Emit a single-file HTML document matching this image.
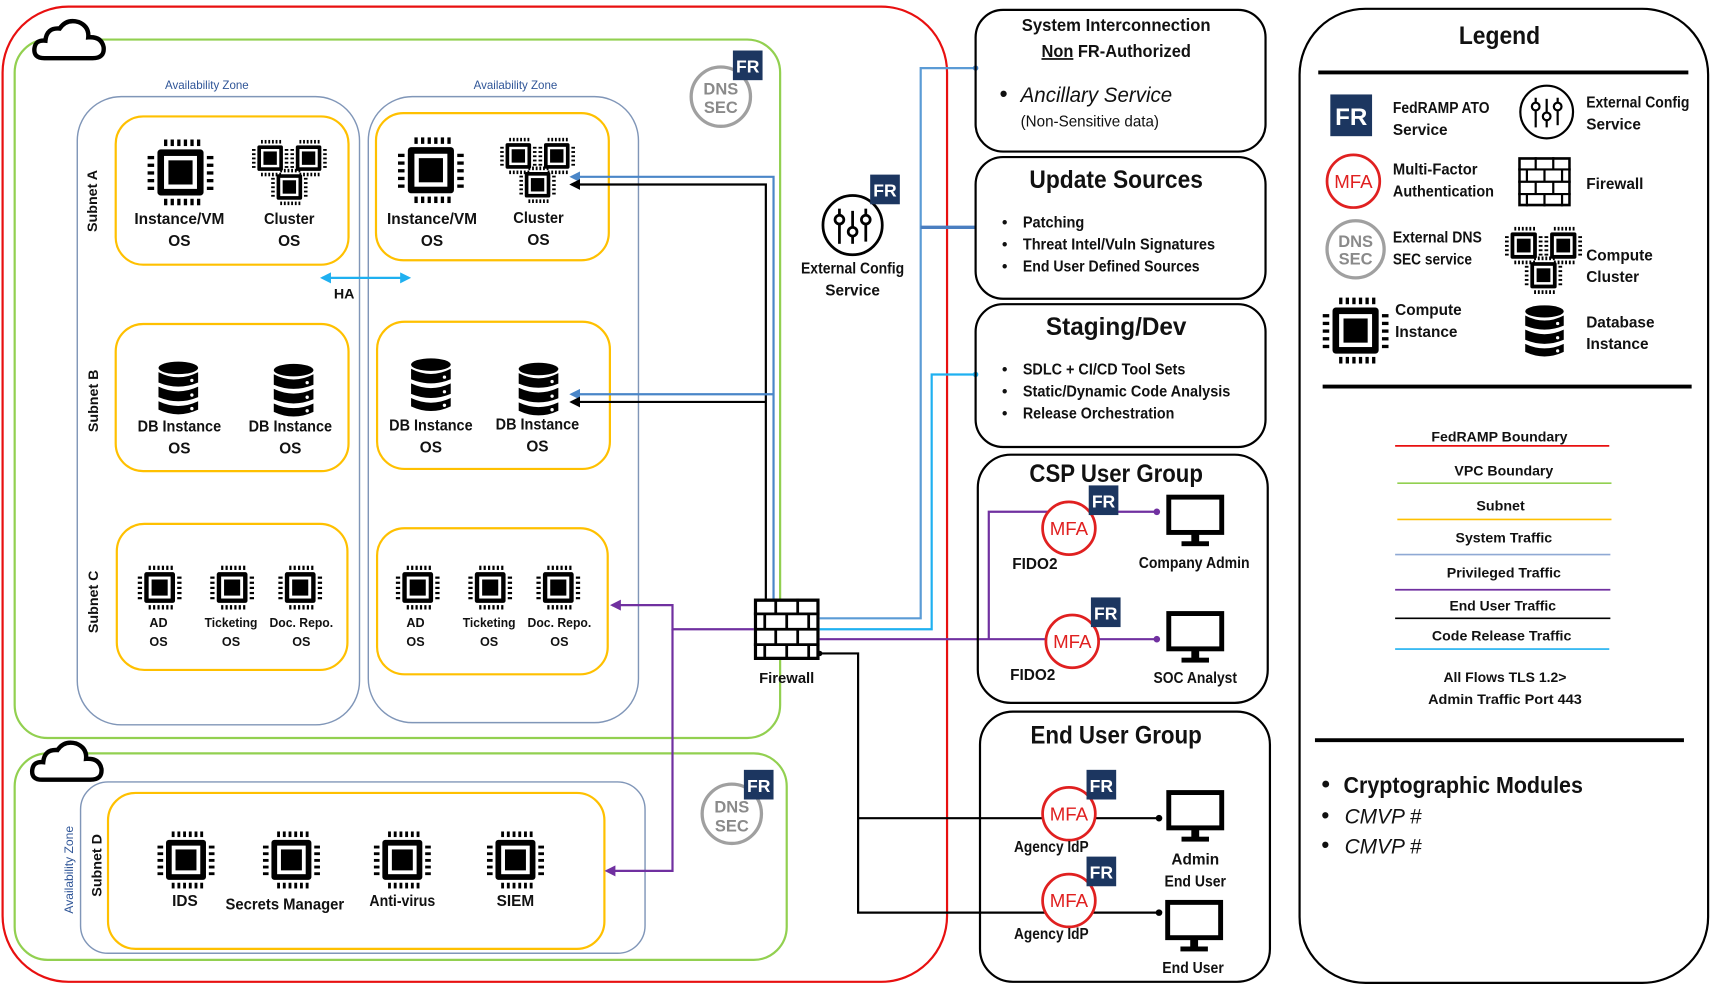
<!DOCTYPE html>
<html><head><meta charset="utf-8"><style>
html,body{margin:0;padding:0;background:#fff;}
svg{display:block;}
text{font-family:"Liberation Sans",sans-serif;font-weight:bold;fill:#111;}
</style></head><body>
<svg width="1714" height="984" viewBox="0 0 1560 896" xmlns="http://www.w3.org/2000/svg">
<defs>
<symbol id="chip" viewBox="0 0 60 60">
<g fill="#000">
<rect x="15" y="0" width="3" height="6"/><rect x="21" y="0" width="3" height="6"/><rect x="27" y="0" width="3" height="6"/><rect x="33" y="0" width="3" height="6"/><rect x="39" y="0" width="3" height="6"/><rect x="45" y="0" width="3" height="6"/>
<rect x="15" y="54" width="3" height="6"/><rect x="21" y="54" width="3" height="6"/><rect x="27" y="54" width="3" height="6"/><rect x="33" y="54" width="3" height="6"/><rect x="39" y="54" width="3" height="6"/><rect x="45" y="54" width="3" height="6"/>
<rect x="0" y="15" width="6" height="3"/><rect x="0" y="22" width="6" height="3"/><rect x="0" y="29" width="6" height="3"/><rect x="0" y="36" width="6" height="3"/><rect x="0" y="43" width="6" height="3"/>
<rect x="54" y="15" width="6" height="3"/><rect x="54" y="22" width="6" height="3"/><rect x="54" y="29" width="6" height="3"/><rect x="54" y="36" width="6" height="3"/><rect x="54" y="43" width="6" height="3"/>
<rect x="9" y="9" width="42" height="42" rx="3"/>
</g>
<rect x="15" y="15" width="30" height="30" fill="#fff"/>
<rect x="19" y="19" width="22" height="22" fill="#000"/>
</symbol>
<symbol id="cluster" viewBox="0 0 80 70">
<use href="#chip" x="0" y="0" width="38" height="38"/>
<use href="#chip" x="40" y="0" width="38" height="38"/>
<use href="#chip" x="20" y="30" width="38" height="38"/>
</symbol>
<symbol id="db" viewBox="0 0 40 52">
<g fill="#000">
<ellipse cx="20" cy="6" rx="19" ry="6"/>
<path d="M1 10 Q20 20 39 10 V20 Q20 28 1 20Z"/>
<path d="M1 24 Q20 33 39 24 V34 Q20 42 1 34Z"/>
<path d="M1 38 Q20 47 39 38 V46 Q20 55 1 46Z"/>
</g>
<g fill="#fff"><circle cx="33" cy="18" r="1.6"/><circle cx="33" cy="32" r="1.6"/><circle cx="33" cy="45" r="1.6"/></g>
</symbol>
<symbol id="mon" viewBox="0 0 60 56">
<rect x="3" y="3" width="54" height="36" fill="#fff" stroke="#000" stroke-width="5"/>
<rect x="26" y="41" width="8" height="8" fill="#000"/>
<rect x="16" y="48" width="28" height="5" fill="#000"/>
</symbol>
<symbol id="fw" viewBox="0 0 60 56">
<rect x="1.5" y="1.5" width="57" height="53" fill="#fff" stroke="#000" stroke-width="3"/>
<g stroke="#000" stroke-width="2.5">
<line x1="0" y1="14" x2="60" y2="14"/><line x1="0" y1="28" x2="60" y2="28"/><line x1="0" y1="42" x2="60" y2="42"/>
<line x1="20" y1="0" x2="20" y2="14"/><line x1="40" y1="0" x2="40" y2="14"/>
<line x1="10" y1="14" x2="10" y2="28"/><line x1="30" y1="14" x2="30" y2="28"/><line x1="50" y1="14" x2="50" y2="28"/>
<line x1="20" y1="28" x2="20" y2="42"/><line x1="40" y1="28" x2="40" y2="42"/>
<line x1="10" y1="42" x2="10" y2="56"/><line x1="30" y1="42" x2="30" y2="56"/><line x1="50" y1="42" x2="50" y2="56"/>
</g>
</symbol>
<symbol id="cloud" viewBox="0 0 70 42">
<path d="M12 38 Q2 38 3 29 Q4 21 13 22 Q14 10 26 11 Q32 2 43 5 Q53 9 52 19 Q64 18 66 28 Q67 38 56 38Z" fill="#fff" stroke="#000" stroke-width="4"/>
</symbol>
<marker id="ab" viewBox="0 0 10 10" refX="8" refY="5" markerWidth="5" markerHeight="5" orient="auto-start-reverse"><path d="M0 0L10 5L0 10Z" fill="#4a86c8"/></marker>
<marker id="ak" viewBox="0 0 10 10" refX="8" refY="5" markerWidth="5" markerHeight="5" orient="auto-start-reverse"><path d="M0 0L10 5L0 10Z" fill="#000"/></marker>
<marker id="ac" viewBox="0 0 10 10" refX="8" refY="5" markerWidth="5" markerHeight="5" orient="auto-start-reverse"><path d="M0 0L10 5L0 10Z" fill="#1fb0f0"/></marker>
<marker id="ap" viewBox="0 0 10 10" refX="8" refY="5" markerWidth="5" markerHeight="5" orient="auto-start-reverse"><path d="M0 0L10 5L0 10Z" fill="#7030a0"/></marker>
</defs>

<rect x="2" y="6" width="860" height="888" rx="60" fill="none" stroke="#e81010" stroke-width="2"/>
<rect x="13" y="36" width="697" height="636" rx="30" fill="none" stroke="#92d050" stroke-width="2"/>
<rect x="13" y="686" width="703" height="188" rx="30" fill="none" stroke="#92d050" stroke-width="2"/>
<use href="#cloud" x="28" y="15" width="70" height="42"/>
<use href="#cloud" x="26" y="672" width="70" height="42"/>

<rect x="70" y="88" width="257" height="572" rx="40" fill="none" stroke="#8096b8" stroke-width="1.3"/>
<rect x="335" y="88" width="246" height="570" rx="40" fill="none" stroke="#8096b8" stroke-width="1.3"/>
<rect x="73" y="712" width="514" height="156" rx="25" fill="none" stroke="#8096b8" stroke-width="1.3"/>
<g font-size="10.5" text-anchor="middle"><text x="188" y="81" style="fill:#2f5597;font-weight:normal">Availability Zone</text><text x="469" y="81" style="fill:#2f5597;font-weight:normal">Availability Zone</text></g>

<g fill="none" stroke="#ffc000" stroke-width="2">
<rect x="105" y="106" width="212" height="135" rx="25"/>
<rect x="342" y="103" width="212" height="134" rx="25"/>
<rect x="105" y="295" width="212" height="134" rx="25"/>
<rect x="343" y="293" width="212" height="134" rx="25"/>
<rect x="106" y="477" width="210" height="133" rx="25"/>
<rect x="343" y="481" width="210" height="133" rx="25"/>
<rect x="98" y="722" width="452" height="142" rx="25"/>
</g>
<g font-size="13" text-anchor="middle">
<text transform="translate(88,183) rotate(-90)">Subnet A</text>
<text transform="translate(89,365) rotate(-90)">Subnet B</text>
<text transform="translate(89,548) rotate(-90)">Subnet C</text>
<text transform="translate(92,788) rotate(-90)">Subnet D</text>
<text transform="translate(66,792) rotate(-90)" font-size="11" style="fill:#2f5597;font-weight:normal">Availability Zone</text>
</g>

<use href="#chip" x="134" y="127" width="60" height="60"/>
<use href="#cluster" x="229" y="127" width="70" height="62"/>
<use href="#chip" x="362" y="125" width="60" height="60"/>
<use href="#cluster" x="455" y="125" width="70" height="62"/>
<g font-size="14" text-anchor="middle">
<text x="163" y="204" textLength="82" lengthAdjust="spacingAndGlyphs">Instance/VM</text><text x="163" y="224">OS</text>
<text x="263" y="204" textLength="46" lengthAdjust="spacingAndGlyphs">Cluster</text><text x="263" y="224">OS</text>
<text x="393" y="204" textLength="82" lengthAdjust="spacingAndGlyphs">Instance/VM</text><text x="393" y="224">OS</text>
<text x="490" y="203" textLength="46" lengthAdjust="spacingAndGlyphs">Cluster</text><text x="490" y="223">OS</text>
<text x="313" y="272" font-size="13">HA</text>
<text x="163" y="393" textLength="76" lengthAdjust="spacingAndGlyphs">DB Instance</text><text x="163" y="413">OS</text>
<text x="264" y="393" textLength="76" lengthAdjust="spacingAndGlyphs">DB Instance</text><text x="264" y="413">OS</text>
<text x="392" y="392" textLength="76" lengthAdjust="spacingAndGlyphs">DB Instance</text><text x="392" y="412">OS</text>
<text x="489" y="391" textLength="76" lengthAdjust="spacingAndGlyphs">DB Instance</text><text x="489" y="411">OS</text>
</g>
<line x1="293" y1="253" x2="372" y2="253" stroke="#1fb0f0" stroke-width="2" marker-start="url(#ac)" marker-end="url(#ac)"/>
<use href="#db" x="143" y="329" width="38" height="50"/>
<use href="#db" x="248" y="331" width="38" height="50"/>
<use href="#db" x="373" y="326" width="38" height="50"/>
<use href="#db" x="471" y="330" width="38" height="50"/>

<use href="#chip" x="125" y="515" width="40" height="40"/>
<use href="#chip" x="191" y="515" width="40" height="40"/>
<use href="#chip" x="253" y="515" width="40" height="40"/>
<use href="#chip" x="360" y="515" width="40" height="40"/>
<use href="#chip" x="426" y="515" width="40" height="40"/>
<use href="#chip" x="488" y="515" width="40" height="40"/>
<g font-size="11.5" text-anchor="middle">
<text x="144" y="571">AD</text><text x="144" y="588">OS</text>
<text x="210" y="571" textLength="48" lengthAdjust="spacingAndGlyphs">Ticketing</text><text x="210" y="588">OS</text>
<text x="274" y="571" textLength="58" lengthAdjust="spacingAndGlyphs">Doc. Repo.</text><text x="274" y="588">OS</text>
<text x="378" y="571">AD</text><text x="378" y="588">OS</text>
<text x="445" y="571" textLength="48" lengthAdjust="spacingAndGlyphs">Ticketing</text><text x="445" y="588">OS</text>
<text x="509" y="571" textLength="58" lengthAdjust="spacingAndGlyphs">Doc. Repo.</text><text x="509" y="588">OS</text>
</g>

<use href="#chip" x="143" y="757" width="52" height="52"/>
<use href="#chip" x="239" y="757" width="52" height="52"/>
<use href="#chip" x="340" y="757" width="52" height="52"/>
<use href="#chip" x="443" y="757" width="52" height="52"/>
<g font-size="14" text-anchor="middle">
<text x="168" y="825">IDS</text><text x="259" y="828" textLength="108" lengthAdjust="spacingAndGlyphs">Secrets Manager</text><text x="366" y="825" textLength="60" lengthAdjust="spacingAndGlyphs">Anti-virus</text><text x="469" y="825">SIEM</text>
</g>

<g>
<circle cx="656" cy="88" r="27" fill="#fff" stroke="#a0a0a0" stroke-width="3"/>
<text x="656" y="86" text-anchor="middle" font-size="15" style="fill:#8a8a8a">DNS</text>
<text x="656" y="103" text-anchor="middle" font-size="15" style="fill:#8a8a8a">SEC</text>
<rect x="667" y="46" width="27" height="27" fill="#1c3660"/><text x="680.5" y="66" text-anchor="middle" font-size="16" style="fill:#fff">FR</text>
<circle cx="666" cy="741" r="27" fill="#fff" stroke="#a0a0a0" stroke-width="3"/>
<text x="666" y="740" text-anchor="middle" font-size="15" style="fill:#8a8a8a">DNS</text>
<text x="666" y="757" text-anchor="middle" font-size="15" style="fill:#8a8a8a">SEC</text>
<rect x="677" y="701" width="27" height="27" fill="#1c3660"/><text x="690.5" y="721" text-anchor="middle" font-size="16" style="fill:#fff">FR</text>
</g>

<g fill="none" stroke-width="2">
<polyline points="704,545 704,161 520,161" stroke="#4a86c8" marker-end="url(#ab)"/>
<polyline points="697,545 697,168 520,168" stroke="#000" marker-end="url(#ak)"/>
<polyline points="704,359 520,359" stroke="#4a86c8" marker-end="url(#ab)"/>
<polyline points="697,366 520,366" stroke="#000" marker-end="url(#ak)"/>
<polyline points="746,563 838,563 838,62 888,62" stroke="#5b9bd5"/>
<polyline points="838,207 888,207" stroke="#4a7ec0" stroke-width="3"/>
<polyline points="746,573 848,573 848,341 888,341" stroke="#1fb0f0"/>
<polyline points="746,582 1053,582" stroke="#7030a0"/>
<polyline points="900,582 900,466 1053,466" stroke="#7030a0"/>
<polyline points="686,573 612,573 612,551 557,551" stroke="#7030a0" marker-end="url(#ap)"/>
<polyline points="612,573 612,793 552,793" stroke="#7030a0" marker-end="url(#ap)"/>
<polyline points="746,595 781,595 781,831 1055,831" stroke="#000"/>
<polyline points="781,745 1055,745" stroke="#000"/>
</g>
<g><circle cx="888" cy="62" r="2.5" fill="#4a86c8"/><circle cx="888" cy="341" r="2.5" fill="#1fb0f0"/>
<circle cx="1053" cy="466" r="3" fill="#7030a0"/><circle cx="1053" cy="582" r="3" fill="#7030a0"/>
<circle cx="1055" cy="745" r="3" fill="#000"/><circle cx="1055" cy="831" r="3" fill="#000"/>
<circle cx="746" cy="595" r="2.5" fill="#000"/></g>

<use href="#fw" x="686" y="545" width="60" height="56"/>
<text x="716" y="622" text-anchor="middle" font-size="13.5">Firewall</text>

<circle cx="776" cy="205" r="27" fill="#fff" stroke="#000" stroke-width="2.5"/>
<g stroke="#000" stroke-width="2.5" fill="#fff">
<line x1="764" y1="190" x2="764" y2="222"/><line x1="776" y1="192" x2="776" y2="222"/><line x1="788" y1="190" x2="788" y2="220"/>
<circle cx="764" cy="200" r="4"/><circle cx="776" cy="211" r="4"/><circle cx="788" cy="200" r="4"/>
</g>
<rect x="792" y="159" width="27" height="27" fill="#1c3660"/><text x="805.5" y="179" text-anchor="middle" font-size="16" style="fill:#fff">FR</text>
<text x="776" y="249" text-anchor="middle" font-size="14" textLength="94" lengthAdjust="spacingAndGlyphs">External Config</text>
<text x="776" y="269" text-anchor="middle" font-size="14">Service</text>

<g fill="none" stroke="#000" stroke-width="2">
<rect x="888" y="9" width="264" height="129" rx="25"/>
<rect x="888" y="143" width="264" height="129" rx="25"/>
<rect x="888" y="277" width="264" height="130" rx="25"/>
<rect x="890" y="414" width="264" height="226" rx="30"/>
<rect x="892" y="648" width="264" height="246" rx="30"/>
<rect x="1183" y="8" width="372" height="887" rx="60"/>
</g>
<g text-anchor="middle">
<text x="1016" y="28" font-size="16" textLength="172" lengthAdjust="spacingAndGlyphs">System Interconnection</text>
<text x="1016" y="52" font-size="16" textLength="136" lengthAdjust="spacingAndGlyphs"><tspan text-decoration="underline">Non</tspan> FR-Authorized</text>
<text x="1016" y="171" font-size="23" textLength="158" lengthAdjust="spacingAndGlyphs">Update Sources</text>
<text x="1016" y="305" font-size="23" textLength="128" lengthAdjust="spacingAndGlyphs">Staging/Dev</text>
<text x="1016" y="439" font-size="23" textLength="158" lengthAdjust="spacingAndGlyphs">CSP User Group</text>
<text x="1016" y="677" font-size="23" textLength="156" lengthAdjust="spacingAndGlyphs">End User Group</text>
</g>
<text x="910" y="92" font-size="20">•</text>
<text x="929" y="93" font-size="19" font-style="italic" style="font-weight:normal" textLength="138" lengthAdjust="spacingAndGlyphs">Ancillary Service</text>
<text x="929" y="115" font-size="14" style="font-weight:normal" textLength="126" lengthAdjust="spacingAndGlyphs">(Non-Sensitive data)</text>
<g font-size="14">
<text x="912" y="207">•</text><text x="931" y="207" textLength="56" lengthAdjust="spacingAndGlyphs">Patching</text>
<text x="912" y="227">•</text><text x="931" y="227" textLength="175" lengthAdjust="spacingAndGlyphs">Threat Intel/Vuln Signatures</text>
<text x="912" y="247">•</text><text x="931" y="247" textLength="161" lengthAdjust="spacingAndGlyphs">End User Defined Sources</text>
<text x="912" y="341">•</text><text x="931" y="341" textLength="148" lengthAdjust="spacingAndGlyphs">SDLC + CI/CD Tool Sets</text>
<text x="912" y="361">•</text><text x="931" y="361" textLength="189" lengthAdjust="spacingAndGlyphs">Static/Dynamic Code Analysis</text>
<text x="912" y="381">•</text><text x="931" y="381" textLength="138" lengthAdjust="spacingAndGlyphs">Release Orchestration</text>
</g>

<g>
<circle cx="973" cy="481" r="24" fill="#fff" stroke="#e02020" stroke-width="2.5"/><text x="973" y="487" text-anchor="middle" font-size="17" style="fill:#e02020;font-weight:normal">MFA</text>
<rect x="991" y="442" width="27" height="27" fill="#1c3660"/><text x="1004.5" y="462" text-anchor="middle" font-size="16" style="fill:#fff">FR</text>
<circle cx="976" cy="584" r="24" fill="#fff" stroke="#e02020" stroke-width="2.5"/><text x="976" y="590" text-anchor="middle" font-size="17" style="fill:#e02020;font-weight:normal">MFA</text>
<rect x="993" y="544" width="27" height="27" fill="#1c3660"/><text x="1006.5" y="564" text-anchor="middle" font-size="16" style="fill:#fff">FR</text>
<circle cx="973" cy="741" r="24" fill="#fff" stroke="#e02020" stroke-width="2.5"/><text x="973" y="747" text-anchor="middle" font-size="17" style="fill:#e02020;font-weight:normal">MFA</text>
<rect x="989" y="701" width="27" height="27" fill="#1c3660"/><text x="1002.5" y="721" text-anchor="middle" font-size="16" style="fill:#fff">FR</text>
<circle cx="973" cy="820" r="24" fill="#fff" stroke="#e02020" stroke-width="2.5"/><text x="973" y="826" text-anchor="middle" font-size="17" style="fill:#e02020;font-weight:normal">MFA</text>
<rect x="989" y="780" width="27" height="27" fill="#1c3660"/><text x="1002.5" y="800" text-anchor="middle" font-size="16" style="fill:#fff">FR</text>
</g>
<use href="#mon" x="1059" y="450" width="58" height="50"/>
<use href="#mon" x="1059" y="556" width="58" height="50"/>
<use href="#mon" x="1059" y="719" width="58" height="50"/>
<use href="#mon" x="1058" y="819" width="58" height="50"/>
<g font-size="14" text-anchor="middle">
<text x="942" y="518">FIDO2</text><text x="1087" y="517" textLength="101" lengthAdjust="spacingAndGlyphs">Company Admin</text>
<text x="940" y="619">FIDO2</text><text x="1088" y="622" textLength="76" lengthAdjust="spacingAndGlyphs">SOC Analyst</text>
<text x="957" y="776" textLength="68" lengthAdjust="spacingAndGlyphs">Agency IdP</text><text x="1088" y="787">Admin</text><text x="1088" y="807" textLength="56" lengthAdjust="spacingAndGlyphs">End User</text>
<text x="957" y="855" textLength="68" lengthAdjust="spacingAndGlyphs">Agency IdP</text><text x="1086" y="886" textLength="56" lengthAdjust="spacingAndGlyphs">End User</text>
</g>

<text x="1365" y="40" text-anchor="middle" font-size="23" textLength="74" lengthAdjust="spacingAndGlyphs">Legend</text>
<line x1="1200" y1="66" x2="1537" y2="66" stroke="#000" stroke-width="3.5"/>
<rect x="1211" y="86" width="38" height="38" fill="#1c3660"/><text x="1230" y="114" text-anchor="middle" font-size="22" style="fill:#fff">FR</text>
<circle cx="1408" cy="102" r="24" fill="#fff" stroke="#000" stroke-width="2"/>
<g stroke="#000" stroke-width="2" fill="#fff"><line x1="1398" y1="89" x2="1398" y2="116"/><line x1="1408" y1="90" x2="1408" y2="116"/><line x1="1418" y1="89" x2="1418" y2="114"/><circle cx="1398" cy="97" r="3.5"/><circle cx="1408" cy="106" r="3.5"/><circle cx="1418" cy="97" r="3.5"/></g>
<circle cx="1232" cy="165" r="24" fill="#fff" stroke="#e02020" stroke-width="2.5"/><text x="1232" y="171" text-anchor="middle" font-size="17" style="fill:#e02020;font-weight:normal">MFA</text>
<use href="#fw" x="1382" y="143" width="48" height="45"/>
<circle cx="1234" cy="227" r="26" fill="#fff" stroke="#a0a0a0" stroke-width="3"/>
<text x="1234" y="225" text-anchor="middle" font-size="15" style="fill:#8a8a8a">DNS</text>
<text x="1234" y="241" text-anchor="middle" font-size="15" style="fill:#8a8a8a">SEC</text>
<use href="#cluster" x="1370" y="206" width="72" height="64"/>
<use href="#chip" x="1204" y="270" width="60" height="62"/>
<use href="#db" x="1387" y="278" width="38" height="48"/>
<g font-size="14">
<text x="1268" y="103" textLength="88" lengthAdjust="spacingAndGlyphs">FedRAMP ATO</text><text x="1268" y="123">Service</text>
<text x="1444" y="98" textLength="94" lengthAdjust="spacingAndGlyphs">External Config</text><text x="1444" y="118">Service</text>
<text x="1268" y="159" textLength="77" lengthAdjust="spacingAndGlyphs">Multi-Factor</text><text x="1268" y="179" textLength="92" lengthAdjust="spacingAndGlyphs">Authentication</text>
<text x="1444" y="172">Firewall</text>
<text x="1268" y="221" textLength="81" lengthAdjust="spacingAndGlyphs">External DNS</text><text x="1268" y="241" textLength="72" lengthAdjust="spacingAndGlyphs">SEC service</text>
<text x="1444" y="237">Compute</text><text x="1444" y="257">Cluster</text>
<text x="1270" y="287">Compute</text><text x="1270" y="307">Instance</text>
<text x="1444" y="298">Database</text><text x="1444" y="318">Instance</text>
</g>
<line x1="1204" y1="352" x2="1540" y2="352" stroke="#000" stroke-width="3.5"/>
<g font-size="13" text-anchor="middle">
<text x="1365" y="402" textLength="124" lengthAdjust="spacingAndGlyphs">FedRAMP Boundary</text>
<text x="1369" y="433" textLength="90" lengthAdjust="spacingAndGlyphs">VPC Boundary</text>
<text x="1366" y="465">Subnet</text>
<text x="1369" y="494" textLength="88" lengthAdjust="spacingAndGlyphs">System Traffic</text>
<text x="1369" y="526" textLength="104" lengthAdjust="spacingAndGlyphs">Privileged Traffic</text>
<text x="1368" y="556" textLength="97" lengthAdjust="spacingAndGlyphs">End User Traffic</text>
<text x="1367" y="583" textLength="127" lengthAdjust="spacingAndGlyphs">Code Release Traffic</text>
<text x="1370" y="621" textLength="112" lengthAdjust="spacingAndGlyphs">All Flows TLS 1.2&gt;</text>
<text x="1370" y="641" textLength="140" lengthAdjust="spacingAndGlyphs">Admin Traffic Port 443</text>
</g>
<g stroke-width="1.5">
<line x1="1270" y1="406" x2="1465" y2="406" stroke="#e81010"/>
<line x1="1272" y1="440" x2="1467" y2="440" stroke="#92d050"/>
<line x1="1272" y1="473" x2="1467" y2="473" stroke="#ffc000"/>
<line x1="1270" y1="505" x2="1466" y2="505" stroke="#8fa9d4"/>
<line x1="1270" y1="537" x2="1466" y2="537" stroke="#7030a0"/>
<line x1="1270" y1="563" x2="1466" y2="563" stroke="#000"/>
<line x1="1270" y1="591" x2="1465" y2="591" stroke="#1fb0f0"/>
</g>
<line x1="1197" y1="674" x2="1533" y2="674" stroke="#000" stroke-width="3.5"/>
<text x="1203" y="721" font-size="22">•</text><text x="1223" y="722" font-size="21" textLength="218" lengthAdjust="spacingAndGlyphs">Cryptographic Modules</text>
<text x="1203" y="749" font-size="20">•</text><text x="1224" y="750" font-size="19" font-style="italic" style="font-weight:normal">CMVP #</text>
<text x="1203" y="776" font-size="20">•</text><text x="1224" y="777" font-size="19" font-style="italic" style="font-weight:normal">CMVP #</text>
</svg>
</body></html>
